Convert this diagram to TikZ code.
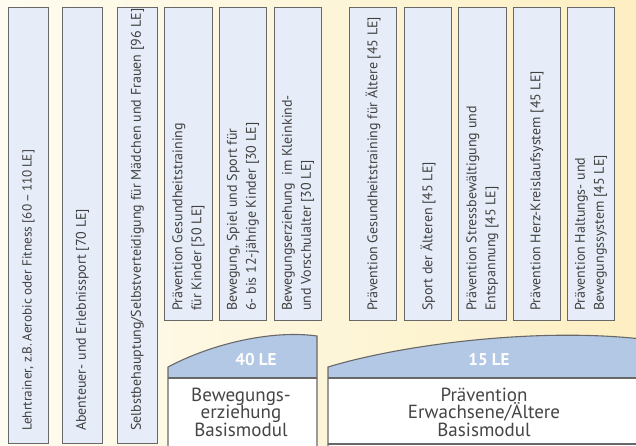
\documentclass[tikz,border=0pt]{standalone}
\usepackage{fontspec}
\setmainfont{PT Sans}
\usetikzlibrary{shadows}
\definecolor{bgL}{HTML}{FEFCF0}
\definecolor{bgR}{HTML}{FDEFC2}
\definecolor{boxfill}{HTML}{E7EDF8}
\definecolor{boxline}{HTML}{686868}
\definecolor{capblue}{HTML}{B3C8E5}
\definecolor{txt}{HTML}{404040}
\definecolor{modtxt}{HTML}{454545}
\begin{document}
\begin{tikzpicture}[x=1pt,y=-1pt,
  vbox/.style={draw=boxline, fill=boxfill, line width=1.1pt, anchor=north west, inner sep=0pt,
    drop shadow={shadow xshift=0.8pt, shadow yshift=-0.8pt, opacity=0.35, fill=black}},
  vtext/.style={rotate=90, anchor=west, align=left, text=txt, inner sep=0pt,
    font=\fontsize{14}{19}\selectfont},
  captext/.style={text=white, font=\fontsize{17}{18}\selectfont\bfseries, inner sep=0pt},
  modtext/.style={text=modtxt, align=center, inner sep=0pt,
    font=\fontsize{19}{17.5}\selectfont},
  modline/.style={draw=boxline, line width=1.1pt},
]
\useasboundingbox (0,0) rectangle (636,445);
\clip (0,0) rectangle (636,445);
\shade[left color=bgL, right color=bgR] (0,0) rectangle (636,445);

% tall boxes
\node[vbox, minimum width=40pt, minimum height=436pt] (b1) at (8,7) {};
\node[vbox, minimum width=40pt, minimum height=436pt] (b2) at (62,7) {};
\node[vbox, minimum width=40pt, minimum height=436pt] (b3) at (117,7) {};
% shorter boxes
\node[vbox, minimum width=48pt, minimum height=313pt] (b4) at (164,7) {};
\node[vbox, minimum width=47pt, minimum height=313pt] (b5) at (219,7) {};
\node[vbox, minimum width=47pt, minimum height=313pt] (b6) at (274,7) {};
\node[vbox, minimum width=47pt, minimum height=313pt] (b7) at (349,7) {};
\node[vbox, minimum width=47pt, minimum height=313pt] (b8) at (404,7) {};
\node[vbox, minimum width=48pt, minimum height=313pt] (b9) at (458,7) {};
\node[vbox, minimum width=47pt, minimum height=313pt] (b10) at (513,7) {};
\node[vbox, minimum width=47pt, minimum height=313pt] (b11) at (567,7) {};

\node[vtext, font=\fontsize{13.2}{19}\selectfont] (t1) at ([yshift=13pt]b1.south) {Lehrtrainer, z.B.\,Aerobic oder Fitness [60\,–\,110\,LE]};
\node[vtext] (t2) at ([yshift=13pt]b2.south) {Abenteuer- und Erlebnissport [70 LE]};
\node[vtext] (t3) at ([yshift=13pt]b3.south) {Selbstbehauptung/Selbstverteidigung für Mädchen und Frauen [96 LE]};
\node[vtext] (t4) at ([yshift=10pt]b4.south) {Prävention Gesundheitstraining\\für Kinder [50 LE]};
\node[vtext] (t5) at ([yshift=10pt]b5.south) {Bewegung, Spiel und Sport für\\6- bis 12-jährige Kinder [30 LE]};
\node[vtext] (t6) at ([yshift=10pt]b6.south) {Bewegungserziehung\ \ im Kleinkind-\\und Vorschulalter [30 LE]};
\node[vtext] (t7) at ([yshift=10pt]b7.south) {Prävention Gesundheitstraining für Ältere [45 LE]};
\node[vtext] (t8) at ([yshift=10pt]b8.south) {Sport der Älteren [45 LE]};
\node[vtext] (t9) at ([yshift=10pt]b9.south) {Prävention Stressbewältigung und\\Entspannung [45 LE]};
\node[vtext] (t10) at ([yshift=10pt]b10.south) {Prävention Herz-Kreislaufsystem [45 LE]};
\node[vtext] (t11) at ([yshift=10pt]b11.south) {Prävention Haltungs- und\\Bewegungssystem [45 LE]};

% module 1
\fill[white] (168,378) rectangle (317,450);
\fill[capblue] (168,378) -- (168,367) .. controls (215,342) and (275,330) .. (317,336) -- (317,378) -- cycle;
\draw[modline] (168,450) -- (168,367) .. controls (215,342) and (275,330) .. (317,336) -- (317,450);
\draw[modline] (168,378) -- (317,378);
\node[captext] (c1) at (256,359.5) {40 LE};
\node[modtext] (m1) at (241,412) {Bewegungs-\\erziehung\\Basismodul};

% module 2
\fill[white] (328,378) rectangle (650,450);
\fill[capblue] (328,378) -- (328,367) .. controls (400,345) and (540,326) .. (650,340) -- (650,378) -- cycle;
\draw[modline] (328,450) -- (328,367) .. controls (400,345) and (540,326) .. (650,340);
\draw[modline] (328,378) -- (650,378);
\draw[modline] (328,444) -- (650,444);
\node[captext] (c2) at (489,359.5) {15 LE};
\node[modtext] (m2) at (484,412) {Prävention\\Erwachsene/Ältere\\Basismodul};
\end{tikzpicture}
\end{document}
